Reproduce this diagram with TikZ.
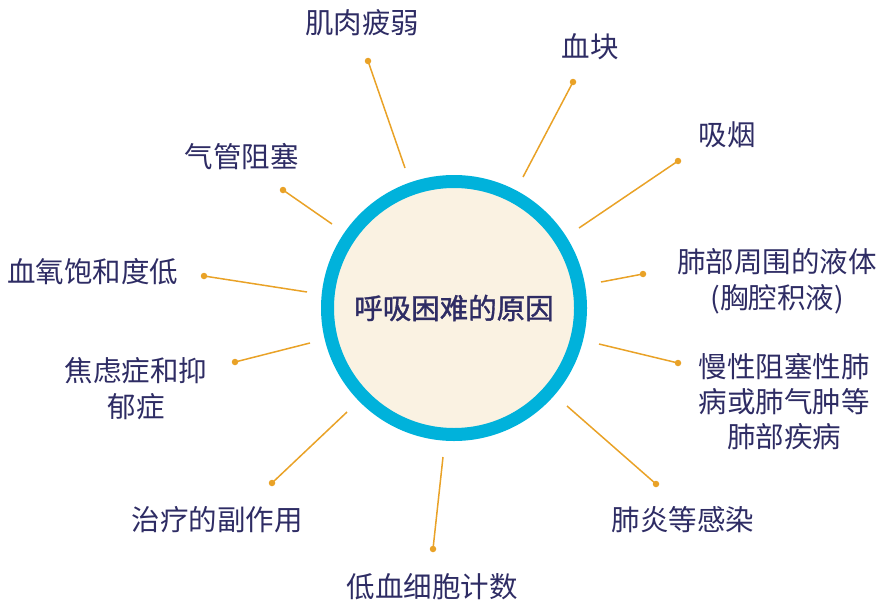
\documentclass[tikz,border=0pt]{standalone}
\usepackage{fontspec}
\newfontfamily\cjk{Noto Sans CJK SC}
\newfontfamily\cjkmed[FakeBold=1.2]{Noto Sans CJK SC}
\definecolor{navy}{HTML}{2E2C64}
\definecolor{ringcyan}{HTML}{00B2DB}
\definecolor{cream}{HTML}{FAF2E2}
\definecolor{spoke}{HTML}{E9A227}
\tikzset{
  label/.style={font=\cjk\fontsize{28.5}{36}\selectfont, text=navy, align=center, inner sep=0pt},
  spokeline/.style={draw=spoke, line width=1.5pt},
  dotnode/.style={circle, fill=spoke, inner sep=0pt, minimum size=6.5pt},
  hub/.style={circle, draw=ringcyan, line width=13pt, fill=cream, minimum size=253pt, inner sep=0pt,
    font=\cjkmed\fontsize{28.5}{34}\selectfont, text=navy}
}
\begin{document}
\begin{tikzpicture}[x=1pt,y=-1pt]
\useasboundingbox (0,0) rectangle (888,602);
\node[hub] (c) at (454,308) {呼吸困难的原因};

% labels
\node[label] (t1) at (362,23) {肌肉疲弱};
\node[label] (t2) at (590,47) {血块};
\node[label] (t3) at (727,135) {吸烟};
\node[label] (t4) at (777,281.5) {肺部周围的液体\\(胸腔积液)};
\node[label, font=\cjk\fontsize{28.5}{35}\selectfont] (t5) at (784,402) {慢性阻塞性肺\\病或肺气肿等\\肺部疾病};
\node[label] (t6) at (683,520) {肺炎等感染};
\node[label] (t7) at (432,587) {低血细胞计数};
\node[label] (t8) at (217,520) {治疗的副作用};
\node[label] (t9) at (136,389) {焦虑症和抑\\郁症};
\node[label] (t10) at (92.5,272) {血氧饱和度低};
\node[label] (t11) at (241.5,157) {气管阻塞};

% spoke start points
\coordinate (s1) at (405,168);
\coordinate (s2) at (523,177);
\coordinate (s3) at (579,228);
\coordinate (s4) at (601,282);
\coordinate (s5) at (599,344);
\coordinate (s6) at (567,406);
\coordinate (s7) at (443,457);
\coordinate (s8) at (347,412);
\coordinate (s9) at (310,343);
\coordinate (s10) at (307,292);
\coordinate (s11) at (332,224);

% dots
\node[dotnode] (d1) at (368,61) {};
\node[dotnode] (d2) at (573,82) {};
\node[dotnode] (d3) at (678,161) {};
\node[dotnode] (d4) at (643,274) {};
\node[dotnode] (d5) at (678,363) {};
\node[dotnode] (d6) at (656,484) {};
\node[dotnode] (d7) at (433,549) {};
\node[dotnode] (d8) at (272,483) {};
\node[dotnode] (d9) at (235,362) {};
\node[dotnode] (d10) at (204,276) {};
\node[dotnode] (d11) at (283,190) {};

\foreach \i in {1,...,11} {
  \draw[spokeline] (s\i) -- (d\i.center);
}
\end{tikzpicture}
\end{document}
